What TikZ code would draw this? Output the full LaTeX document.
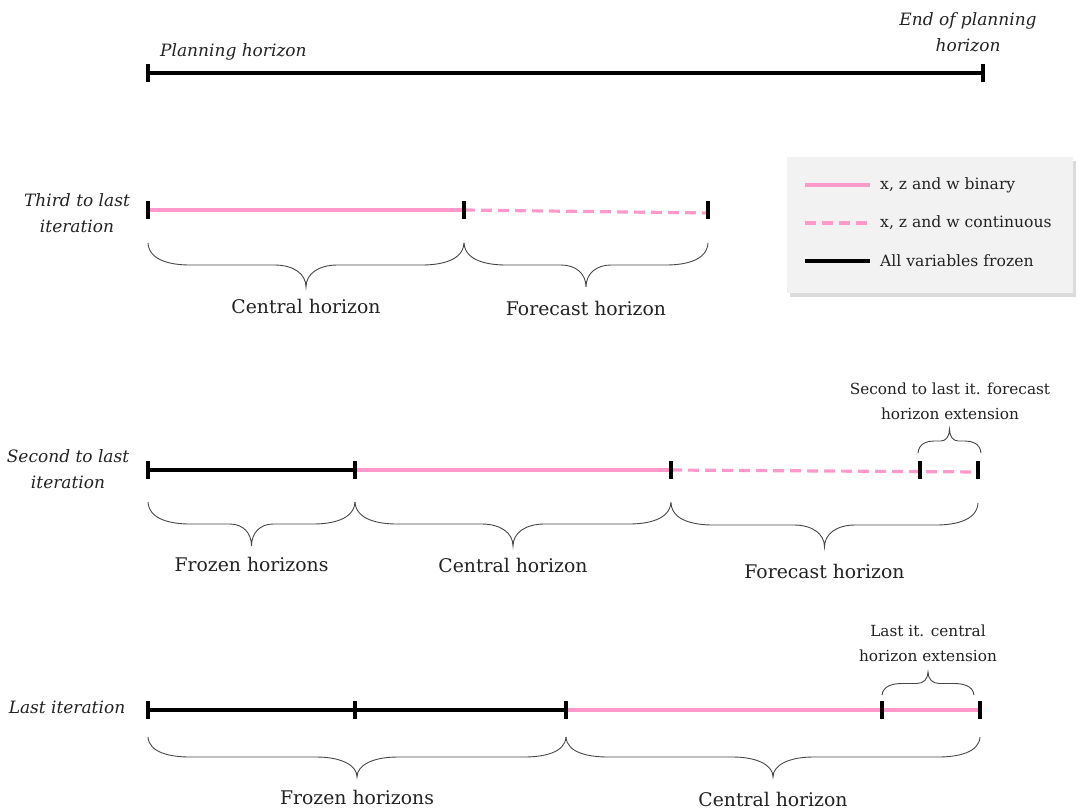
\documentclass[tikz,border=0pt]{standalone}
\usepackage{fontspec}
\setmainfont{DejaVu Serif}
\usetikzlibrary{calc,shadows,positioning}
\definecolor{binpink}{RGB}{255,153,204}
\definecolor{legendgray}{RGB}{242,242,242}
\definecolor{inkgray}{RGB}{34,34,34}
\tikzset{
  tick/.style={line width=4.5pt,black},
  frozen/.style={line width=3.6pt,black},
  binary/.style={line width=3.2pt,binpink},
  relaxed/.style={binary,dash pattern=on 11pt off 6pt},
  bracestroke/.style={line width=0.9pt,black!72},
  spanlabel/.style={font=\fontsize{18.8}{22}\selectfont,text=inkgray,inner sep=0pt,anchor=base},
  iterlabel/.style={font=\fontsize{17}{26}\selectfont\itshape,text=inkgray,align=center,inner sep=0pt},
  extlabel/.style={font=\fontsize{15.3}{25}\selectfont,text=inkgray,align=center,inner sep=0pt},
  legendbox/.style={fill=legendgray,minimum width=286pt,minimum height=135pt,inner sep=0pt,
                    drop shadow={shadow xshift=3pt,shadow yshift=-4pt,fill=black!30,opacity=.45}},
  legendtext/.style={font=\fontsize{15.6}{18}\selectfont,text=inkgray,anchor=base west,inner sep=0pt},
}
% curly brace between two points: [style]{from}{to}{amplitude, negative = downwards}{end width}
\newcommand{\curlybrace}[5][]{%
  \draw[bracestroke,#1] let \p1=(#2), \p2=(#3), \n1={0.09*(\x2-\x1)+3pt}, \n2={0.5*\x1+0.5*\x2} in
    (\p1) .. controls +(1pt,{0.4*(#4)}) and +({-0.45*(#5)},0) .. ({\x1+#5},{\y1+0.5*(#4)})
    -- ({(\n2-\n1)*1pt},{\y1+0.5*(#4)})
    .. controls +({0.6*\n1*1pt},0) and +(0,{-0.3*(#4)}) .. ({\n2*1pt},{\y1+#4})
    .. controls +(0,{-0.3*(#4)}) and +({-0.6*\n1*1pt},0) .. ({(\n2+\n1)*1pt},{\y1+0.5*(#4)})
    -- ({\x2-#5},{\y2+0.5*(#4)}) .. controls +({0.45*(#5)},0) and +(-1pt,{0.4*(#4)}) .. (\p2);
}

\begin{document}
\begin{tikzpicture}[x=1pt,y=-1pt]
\useasboundingbox (0,0) rectangle (1078,810);

% --- whole planning horizon ---
\coordinate (p0) at (148,73);
\coordinate (p1) at (983,73);
\draw[frozen] (p0) -- (p1);
\node[iterlabel, anchor=base west] (plan) at (160,57) {Planning horizon};
\node[iterlabel] (planend) at (968,32) {End of planning\\horizon};

% --- third to last iteration ---
\coordinate (t0) at (148,210);
\coordinate (t1) at (464,210);
\coordinate (t2) at (708,210);
\draw[binary] (t0) -- (t1);
\draw[relaxed] (t1) -- ([yshift=-3pt]t2);
\node[iterlabel] (third) at (77,213) {Third to last\\iteration};
\curlybrace{[yshift=-33pt]t0}{[yshift=-33pt]t1}{-44pt}{42pt}
\curlybrace{[yshift=-33pt]t1}{[yshift=-33pt]t2}{-44pt}{42pt}
\node[spanlabel] (cen1) at ($(t0)!.5!(t1)+(0,103)$) {Central horizon};
\node[spanlabel] (for1) at ($(t1)!.5!(t2)+(0,105)$) {Forecast horizon};

% --- legend ---
\node[legendbox] (legend) at (930,225) {};
\draw[binary]  (805,185) -- (870,185);
\draw[relaxed] (805,223) -- (870,223);
\draw[frozen]  (805,261) -- (870,261);
\node[legendtext] (lbin)  at (880,190) {x, z and w binary};
\node[legendtext] (lcont) at (880,228) {x, z and w continuous};
\node[legendtext] (lfroz) at (880,266) {All variables frozen};

% --- second to last iteration ---
\coordinate (s0) at (148,470);
\coordinate (s1) at (355,470);
\coordinate (s2) at (671,470);
\coordinate (s3) at (920,470);
\coordinate (s4) at (978,470);
\draw[frozen] (s0) -- (s1);
\draw[binary] (s1) -- (s2);
\draw[relaxed] (s2) -- ([yshift=-2pt]s4);
\node[iterlabel] (second) at (68,469) {Second to last\\iteration};
\curlybrace{[yshift=-32pt]s0}{[yshift=-32pt]s1}{-44pt}{42pt}
\curlybrace{[yshift=-32pt]s1}{[yshift=-32pt]s2}{-44pt}{42pt}
\curlybrace{[yshift=-33pt]s2}{[yshift=-33pt]s4}{-44pt}{42pt}
\curlybrace{[xshift=-2pt,yshift=17pt]s3}{[xshift=3pt,yshift=17pt]s4}{24pt}{16pt}
\node[spanlabel] (froz2) at ($(s0)!.5!(s1)+(0,101)$) {Frozen horizons};
\node[spanlabel] (cen2)  at ($(s1)!.5!(s2)+(0,102)$) {Central horizon};
\node[spanlabel] (for2)  at ($(s2)!.5!(s4)+(0,108)$) {Forecast horizon};
\node[extlabel] (ext2) at (950,401) {Second to last it. forecast\\horizon extension};

% --- last iteration ---
\coordinate (l0) at (148,710);
\coordinate (l1) at (355,710);
\coordinate (l2) at (566,710);
\coordinate (l3) at (882,710);
\coordinate (l4) at (980,710);
\draw[frozen] (l0) -- (l2);
\draw[binary] (l2) -- (l4);
\node[iterlabel, anchor=base] (last) at (67,713) {Last iteration};
\curlybrace{[yshift=-27pt]l0}{[yshift=-27pt]l2}{-40pt}{42pt}
\curlybrace{[yshift=-27pt]l2}{[yshift=-27pt]l4}{-40pt}{42pt}
\curlybrace{[yshift=15pt]l3}{[xshift=-6pt,yshift=15pt]l4}{23pt}{20pt}
\node[spanlabel] (froz3) at ($(l0)!.5!(l2)+(0,94)$) {Frozen horizons};
\node[spanlabel] (cen3)  at ($(l2)!.5!(l4)+(0,96)$) {Central horizon};
\node[extlabel] (ext3) at (928,643) {Last it. central\\horizon extension};

% --- ticks ---
\foreach \t in {p0,p1,t0,t1,t2,s0,s1,s2,s3,s4,l0,l1,l2,l3,l4}
  \draw[tick] ([yshift=-9pt]\t) -- ([yshift=9pt]\t);

\end{tikzpicture}
\end{document}
